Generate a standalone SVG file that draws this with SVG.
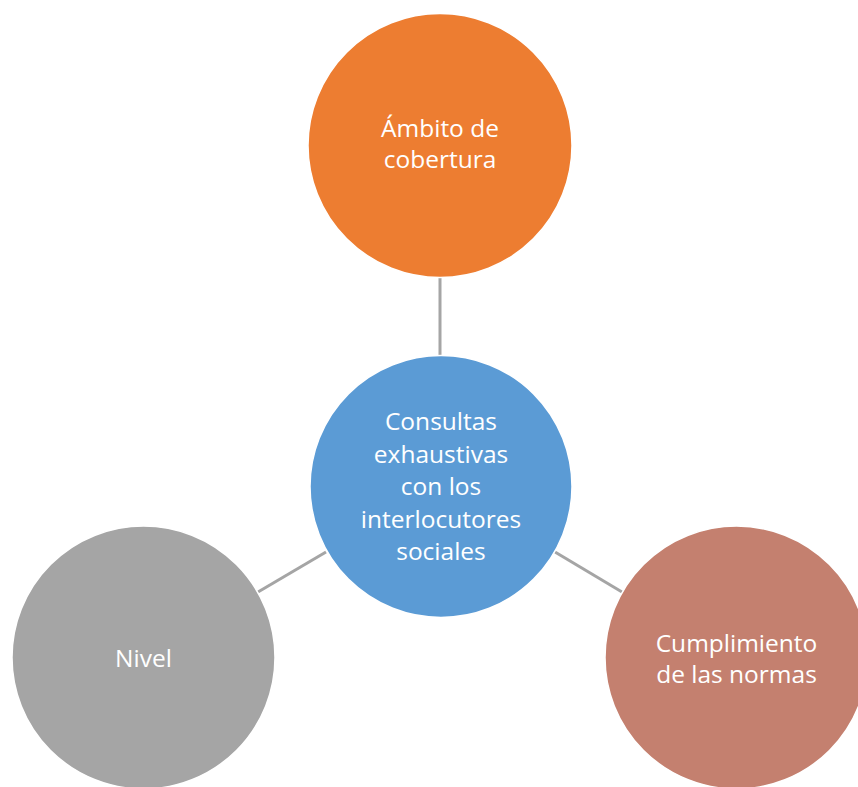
<svg xmlns="http://www.w3.org/2000/svg" width="858" height="787" viewBox="0 0 858 787">
<style>
.n{stroke:#ffffff;stroke-width:1.5}
.t{font-family:"Open Sans","Liberation Sans",sans-serif;font-size:24.5px;fill:#ffffff;text-anchor:middle}
.c{stroke:#a5a5a5;stroke-width:3;fill:none}
</style>
<rect width="858" height="787" fill="#ffffff"/>
<g id="connectors">
<line class="c" x1="440" y1="277" x2="440" y2="356"/>
<line class="c" x1="258" y1="592" x2="326" y2="552"/>
<line class="c" x1="555" y1="552" x2="622" y2="592"/>
</g>
<g id="top">
<circle class="n" cx="440" cy="145.5" r="132" fill="#ed7d31"/>
<text class="t" x="440" y="137">Ámbito de</text>
<text class="t" x="440" y="168">cobertura</text>
</g>
<g id="center">
<circle class="n" cx="441" cy="486.5" r="131" fill="#5b9bd5"/>
<text class="t" x="441" y="430">Consultas</text>
<text class="t" x="441" y="463">exhaustivas</text>
<text class="t" x="441" y="495">con los</text>
<text class="t" x="441" y="528">interlocutores</text>
<text class="t" x="441" y="560">sociales</text>
</g>
<g id="left">
<circle class="n" cx="143.5" cy="657.5" r="131.5" fill="#a5a5a5"/>
<text class="t" x="143.5" y="667">Nivel</text>
</g>
<g id="right">
<circle class="n" cx="736.5" cy="657.5" r="131.5" fill="#c4806f"/>
<text class="t" x="736.5" y="652">Cumplimiento</text>
<text class="t" x="736.5" y="683">de las normas</text>
</g>
</svg>
